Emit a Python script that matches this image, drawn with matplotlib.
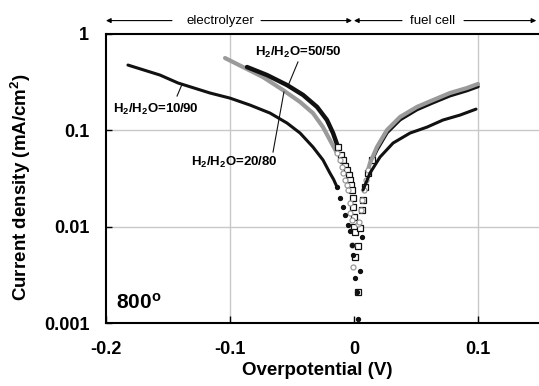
import matplotlib
matplotlib.use("Agg")
import matplotlib.pyplot as plt
import matplotlib.transforms as mtransforms

plt.rcParams['font.family'] = ['Liberation Sans', 'DejaVu Sans']
plt.rcParams['mathtext.fontset'] = 'custom'
plt.rcParams['mathtext.rm'] = 'Liberation Sans:bold'
plt.rcParams['mathtext.it'] = 'Liberation Sans:bold'
plt.rcParams['mathtext.bf'] = 'Liberation Sans:bold'
plt.rcParams['mathtext.default'] = 'rm'

# ---------------- data ----------------
# H2/H2O = 10/90 (black dots)
x1090_left = [-0.1823, -0.1565, -0.1419, -0.1161, -0.100, -0.0839, -0.0677, -0.054,
              -0.0435, -0.0331, -0.025, -0.0194, -0.0165, -0.0137]
y1090_left = [0.476, 0.375, 0.310, 0.244, 0.216, 0.183, 0.151, 0.119,
              0.0937, 0.0671, 0.0492, 0.036, 0.031, 0.0258]
x1090_mid = [-0.0137, -0.0113, -0.0089, -0.0073, -0.0048, -0.0032, -0.0016,
             -0.0008, 0.0008, 0.0024, 0.0032, 0.0048, 0.0065]
y1090_mid = [0.0258, 0.0198, 0.0160, 0.0132, 0.0104, 0.0090, 0.0064,
             0.0051, 0.0029, 0.0021, 0.0011, 0.0035, 0.0078]
x1090_right = [0.0073, 0.0129, 0.021, 0.0315, 0.0452, 0.0589, 0.0718, 0.0855, 0.0984]
y1090_right = [0.024, 0.036, 0.0528, 0.0738, 0.0937, 0.108, 0.128, 0.144, 0.166]

# H2/H2O = 50/50 (black open squares)
x5050_left = [-0.0863, -0.0702, -0.054, -0.0411, -0.0298, -0.0218, -0.0169, -0.0129]
y5050_left = [0.454, 0.375, 0.295, 0.233, 0.175, 0.128, 0.0937, 0.0671]
x5050_mid = [-0.0129, -0.0105, -0.0089, -0.0070, -0.0056, -0.0044, -0.0032, -0.0024,
             -0.0016, -0.0012, -0.0008, -0.0004, 0.0, 0.0008, 0.0048, 0.0032,
             0.0008, 0.0032, 0.0065, 0.0073, 0.0089, 0.0113, 0.0145]
y5050_mid = [0.0671, 0.056, 0.0492, 0.0430, 0.0387, 0.034, 0.0305, 0.027,
             0.024, 0.0198, 0.016, 0.0126, 0.0099, 0.0088, 0.0097, 0.0063,
             0.0048, 0.0021, 0.0149, 0.0189, 0.0258, 0.036, 0.0492]
x5050_right = [0.0145, 0.0185, 0.0266, 0.0371, 0.0508, 0.0637, 0.0774, 0.0911, 0.100]
y5050_right = [0.0492, 0.063, 0.0947, 0.129, 0.1645, 0.194, 0.229, 0.259, 0.285]

# H2/H2O = 20/80 (grey open circles)
x2080_left = [-0.104, -0.0895, -0.0734, -0.0573, -0.0435, -0.0331, -0.025, -0.0194, -0.0137]
y2080_left = [0.563, 0.454, 0.357, 0.262, 0.197, 0.151, 0.108, 0.0793, 0.0581]
x2080_mid = [-0.0137, -0.0115, -0.0097, -0.0085, -0.0073, -0.0060, -0.0048, -0.0036,
             -0.0032, -0.0016, 0.0032, -0.0016, -0.0008,
             0.0040, 0.0056, 0.0065, 0.0081, 0.0097, 0.0113]
y2080_mid = [0.0581, 0.049, 0.0416, 0.036, 0.0305, 0.027, 0.024, 0.0176,
             0.0138, 0.0117, 0.0106, 0.0064, 0.0038,
             0.0112, 0.0149, 0.0189, 0.024, 0.0305, 0.0387]
x2080_right = [0.0113, 0.0129, 0.0185, 0.0266, 0.0371, 0.0508, 0.0637, 0.0774, 0.0911, 0.100]
y2080_right = [0.0387, 0.0457, 0.0671, 0.1007, 0.1375, 0.175, 0.206, 0.244, 0.275, 0.303]

x_ticks = [-0.2, -0.1, 0.0, 0.1]
x_ticklabels = ['-0.2', '-0.1', '0', '0.1']
y_ticks = [0.001, 0.01, 0.1, 1]
y_ticklabels = ['0.001', '0.01', '0.1', '1']

# ---------------- figure ----------------
fig = plt.figure(figsize=(5.39, 3.86), dpi=100)
ax = fig.add_axes([106/539, 63/386, 434/539, 289/386])
ax.set_yscale('log')
ax.set_xlim(-0.2, 0.15)
ax.set_ylim(0.001, 1)

grid_c = '#c8c8c8'
for gx in (-0.1, 0.1):
    ax.axvline(gx, color=grid_c, lw=1.0, zorder=0)
for gy in (0.01, 0.1):
    ax.axhline(gy, color=grid_c, lw=1.0, zorder=0)

black = '#111111'
grey = '#9a9a9a'

# 50/50 black squares
ax.plot(x5050_left, y5050_left, '-', color=black, lw=3.2, zorder=3, solid_capstyle='round')
ax.plot(x5050_right, y5050_right, '-', color=black, lw=2.6, zorder=2, solid_capstyle='round')
ax.plot(x5050_mid, y5050_mid, 's', ls='none', mfc='white', mec=black, mew=0.9, ms=4.0, zorder=3)

# 20/80 grey
ax.plot(x2080_left, y2080_left, '-', color=grey, lw=3.0, zorder=2, solid_capstyle='round')
ax.plot(x2080_right, y2080_right, '-', color=grey, lw=3.0, zorder=3, solid_capstyle='round')
ax.plot(x2080_mid, y2080_mid, 'o', ls='none', mfc='white', mec=grey, mew=0.9, ms=3.6, zorder=3)

# 10/90 black dots
ax.plot(x1090_left, y1090_left, '-', color=black, lw=2.2, zorder=3, solid_capstyle='round')
ax.plot(x1090_right, y1090_right, '-', color=black, lw=2.2, zorder=3, solid_capstyle='round')
ax.plot(x1090_mid, y1090_mid, 'o', ls='none', color=black, ms=2.8, zorder=3)

# axes styling
for s in ('left', 'bottom', 'top'):
    ax.spines[s].set_linewidth(1.5)
    ax.spines[s].set_color('black')
ax.spines['right'].set_visible(False)

ax.set_xticks(x_ticks)
ax.set_xticklabels(x_ticklabels)
ax.set_yticks(y_ticks)
ax.set_yticklabels(y_ticklabels)
ax.minorticks_off()
ax.tick_params(axis='x', direction='in', length=5, width=1.0, pad=13, labelsize=13)
ax.tick_params(axis='y', direction='in', length=4, width=1.0, pad=12, labelsize=13)
ax.tick_params(top=False, right=False)
for lab in ax.get_xticklabels() + ax.get_yticklabels():
    lab.set_fontweight('bold')

ax.set_xlabel('Overpotential (V)', fontsize=13.5, fontweight='bold')
ax.xaxis.set_label_coords((317-106)/434, -(362-323)/289)
ax.set_ylabel('Current density (mA/cm$^2$)', fontsize=13.5, fontweight='bold')
ax.yaxis.set_label_coords(-(106-33)/434, 0.5 - (187-178)/289)

# curve labels
lab_kw = dict(fontsize=9.5, fontweight='bold', ha='center', va='center', zorder=6)
ax.text(-0.1597, 0.166, 'H$_2$/H$_2$O=10/90', **lab_kw)
ax.text(-0.0452, 0.650, 'H$_2$/H$_2$O=50/50', **lab_kw)
ax.text(-0.0968, 0.0469, 'H$_2$/H$_2$O=20/80', **lab_kw)
ax.plot([-0.1427, -0.1387], [0.227, 0.300], color=black, lw=0.8, zorder=5)
ax.plot([-0.0452, -0.0532], [0.512, 0.290], color=black, lw=0.8, zorder=5)
ax.plot([-0.0653, -0.0565], [0.0595, 0.25], color=black, lw=0.8, zorder=5)

ax.text(-0.174, 0.00161, '800$^\\mathrm{o}$', fontsize=15, fontweight='bold',
        ha='center', va='center')

# top arrows: electrolyzer / fuel cell
trans = mtransforms.blended_transform_factory(ax.transData, ax.transAxes)
ya = 1.0464
arrow_kw = dict(arrowstyle='-|>', lw=0.8, color='black', mutation_scale=7,
                shrinkA=0, shrinkB=0)
for x_from, x_to in ((-0.1468, -0.2), (-0.075, -0.0016), (0.0387, 0.0), (0.0887, 0.147)):
    ax.annotate('', xy=(x_to, ya), xytext=(x_from, ya), xycoords=trans,
                textcoords=trans, arrowprops=arrow_kw, annotation_clip=False)
ax.text(-0.108, ya, 'electrolyzer', transform=trans, fontsize=9.5,
        ha='center', va='center')
ax.text(0.0637, ya, 'fuel cell', transform=trans, fontsize=9.5,
        ha='center', va='center')

fig.savefig('out.png', dpi=100)
